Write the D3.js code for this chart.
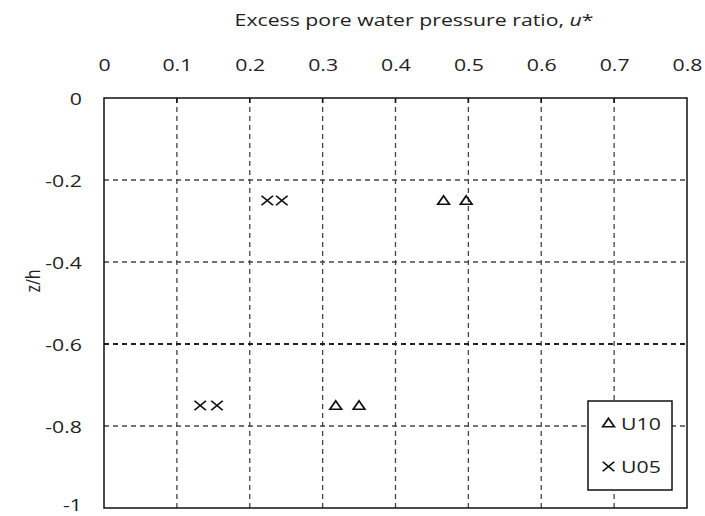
<!DOCTYPE html>
<html><head><meta charset="utf-8">
<script src="https://cdn.jsdelivr.net/npm/d3@7"></script>
<style>body{margin:0;background:#fff}svg{display:block}text{font-family:"Open Sans","Noto Sans",sans-serif;fill:#222}</style>
</head><body><svg id="c" width="705" height="516"></svg>
<script>
const xTicks = [0,0.1,0.2,0.3,0.4,0.5,0.6,0.7,0.8];
const yTicks = [0,-0.2,-0.4,-0.6,-0.8,-1];
const seriesNames = ["U10","U05"];
const u10X = [0.466,0.497,0.318,0.350];
const u10Z = [-0.25,-0.25,-0.75,-0.75];
const u05X = [0.224,0.244,0.132,0.155];
const u05Z = [-0.25,-0.25,-0.75,-0.75];

const svg = d3.select("#c");
const L=104,R=687,T=98,B=508;
const x = d3.scaleLinear().domain([0,0.8]).range([L,R]);
const y = d3.scaleLinear().domain([0,-1]).range([T,B]);
const FF = "'Open Sans','Noto Sans',sans-serif";
const SX = 1.25; // horizontal stretch of the original picture

// gridlines
svg.append("g").selectAll("line").data(xTicks.slice(1,-1)).join("line")
  .attr("x1",d=>x(d)).attr("x2",d=>x(d)).attr("y1",T).attr("y2",B)
  .attr("stroke","#444").attr("stroke-width",1.3).attr("stroke-dasharray","5,4");
svg.append("g").selectAll("line").data(yTicks.slice(1,-1)).join("line")
  .attr("x1",L).attr("x2",R).attr("y1",d=>y(d)).attr("y2",d=>y(d))
  .attr("stroke",d=>d===-0.6?"#222":"#444").attr("stroke-width",d=>d===-0.6?1.8:1.3).attr("stroke-dasharray","5,4");

// frame
svg.append("rect").attr("x",L).attr("y",T).attr("width",R-L).attr("height",B-T)
  .attr("fill","none").attr("stroke","#111").attr("stroke-width",1.5);

// top axis
const xa = d3.axisTop(x).tickValues(xTicks).tickFormat(d=>String(d)).tickSize(0).tickPadding(0);
const gx = svg.append("g").attr("transform",`translate(0,${T-27})`).call(xa);
gx.attr("font-size",null).attr("font-family",null);
gx.select(".domain").remove();
gx.selectAll("text").attr("font-size",17).attr("fill","#222").style("font-family",FF)
  .attr("transform",`scale(${SX},1)`);
// small ticks on top frame
svg.append("g").selectAll("line").data(xTicks.slice(1,-1)).join("line")
  .attr("x1",d=>x(d)).attr("x2",d=>x(d)).attr("y1",T).attr("y2",T+5).attr("stroke","#111").attr("stroke-width",1.5);

// left axis
const ya = d3.axisLeft(y).tickValues(yTicks).tickFormat(d=>String(d)).tickSize(0).tickPadding(0);
const gy = svg.append("g").attr("transform",`translate(${L-22},0)`).call(ya);
gy.attr("font-size",null).attr("font-family",null);
gy.select(".domain").remove();
gy.selectAll("text").attr("font-size",17).attr("fill","#222").style("font-family",FF)
  .attr("dy",d=>d===-1?"0.12em":"0.38em").attr("transform",`scale(${SX},1)`);

// titles
const t = svg.append("text").attr("transform",`translate(414,26) scale(${SX},1)`).attr("text-anchor","middle").attr("font-size",17);
t.append("tspan").text("Excess pore water pressure ratio, ");
t.append("tspan").attr("font-style","italic").text("u");
t.append("tspan").text("*");
svg.append("text").attr("transform",`translate(40,281) scale(${SX},1) rotate(-90)`).attr("text-anchor","middle").attr("font-size",16).text("z/h");

// markers
const tri = d3.symbol().type(d3.symbolTriangle).size(42);
const u10 = u10X.map((v,i)=>({v,z:u10Z[i]}));
const u05 = u05X.map((v,i)=>({v,z:u05Z[i]}));
svg.append("g").selectAll("path").data(u10).join("path")
  .attr("d",tri).attr("transform",d=>`translate(${x(d.v)},${y(d.z)+1}) scale(1.2,1)`)
  .attr("fill","none").attr("stroke","#111").attr("stroke-width",1.5);
const cross = d3.symbol().type(d3.symbolTimes).size(62);
svg.append("g").selectAll("path").data(u05).join("path")
  .attr("d",cross).attr("transform",d=>`translate(${x(d.v)},${y(d.z)}) scale(1.2,1)`)
  .attr("fill","none").attr("stroke","#111").attr("stroke-width",1.5);

// legend
const lg = svg.append("g");
lg.append("rect").attr("x",588).attr("y",401).attr("width",84).attr("height",89)
  .attr("fill","#fff").attr("stroke","#111").attr("stroke-width",1.5);
seriesNames.forEach((n,i)=>{
  const cy = 423 + i*43.5;
  if(i===0) lg.append("path").attr("d",tri).attr("transform",`translate(608.5,${cy+1}) scale(1.2,1)`).attr("fill","none").attr("stroke","#111").attr("stroke-width",1.5);
  else lg.append("path").attr("d",cross).attr("transform",`translate(608.5,${cy}) scale(1.2,1)`).attr("fill","none").attr("stroke","#111").attr("stroke-width",1.5);
  lg.append("text").attr("transform",`translate(621,${cy+6.5}) scale(${SX},1)`).attr("font-size",17).attr("fill","#2b3550").text(n);
});
</script></body></html>
